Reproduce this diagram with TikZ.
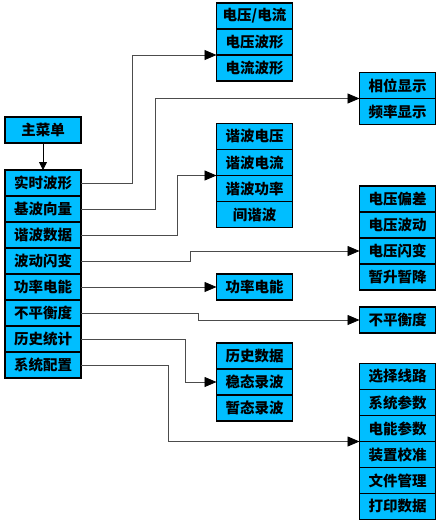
\documentclass[tikz,border=0pt]{standalone}
\usepackage{fontspec}
\newfontfamily\cjk{Noto Sans CJK SC}
\usetikzlibrary{arrows.meta,positioning}
\definecolor{menublue}{RGB}{0,190,255}
\tikzset{
  cell/.style={draw, line width=1.3pt, fill=menublue, minimum width=76pt,
    minimum height=26pt, inner sep=0pt, outer sep=0pt,
    font=\cjk\bfseries\fontsize{14.5}{16}\selectfont},
  link/.style={draw=black!70, line width=0.8pt, -{Triangle[length=12pt,width=10pt,color=black]}}
}

\begin{document}
\begin{tikzpicture}[x=1pt,y=-1pt]
  \useasboundingbox (0,0) rectangle (441,524);
  % main menu
  \node[cell] (mm) at (43,130) {主菜单};
  % left column
  \node[cell] (lc1) at (43,183) {实时波形};
  \node[cell, below=0pt of lc1] (lc2) {基波向量};
  \node[cell, below=0pt of lc2] (lc3) {谐波数据};
  \node[cell, below=0pt of lc3] (lc4) {波动闪变};
  \node[cell, below=0pt of lc4] (lc5) {功率电能};
  \node[cell, below=0pt of lc5] (lc6) {不平衡度};
  \node[cell, below=0pt of lc6] (lc7) {历史统计};
  \node[cell, below=0pt of lc7] (lc8) {系统配置};
  \draw[draw=black, line width=0.8pt, -{Triangle[length=8pt,width=8pt]}] (mm.south) -- (lc1.north);
  % waveforms
  \node[cell] (b1a) at (254.5,16) {电压/电流};
  \node[cell, below=0pt of b1a] (b1b) {电压波形};
  \node[cell, below=0pt of b1b] (b1c) {电流波形};
  % vectors
  \node[cell] (b2a) at (397.5,85.5) {相位显示};
  \node[cell, below=0pt of b2a] (b2b) {频率显示};
  % harmonics
  \node[cell] (b3a) at (254.5,136.5) {谐波电压};
  \node[cell, below=0pt of b3a] (b3b) {谐波电流};
  \node[cell, below=0pt of b3b] (b3c) {谐波功率};
  \node[cell, below=0pt of b3c] (b3d) {间谐波};
  % flicker
  \node[cell] (b4a) at (397.5,199) {电压偏差};
  \node[cell, below=0pt of b4a] (b4b) {电压波动};
  \node[cell, below=0pt of b4b] (b4c) {电压闪变};
  \node[cell, below=0pt of b4c] (b4d) {暂升暂降};
  % power, unbalance
  \node[cell] (b5) at (254.5,287) {功率电能};
  \node[cell] (b6) at (397.5,320) {不平衡度};
  % history
  \node[cell] (b7a) at (254.5,356) {历史数据};
  \node[cell, below=0pt of b7a] (b7b) {稳态录波};
  \node[cell, below=0pt of b7b] (b7c) {暂态录波};
  % settings
  \node[cell] (b8a) at (397.5,376.5) {选择线路};
  \node[cell, below=0pt of b8a] (b8b) {系统参数};
  \node[cell, below=0pt of b8b] (b8c) {电能参数};
  \node[cell, below=0pt of b8c] (b8d) {装置校准};
  \node[cell, below=0pt of b8d] (b8e) {文件管理};
  \node[cell, below=0pt of b8e] (b8f) {打印数据};
  % connectors
  \draw[link] (lc1.east) -- ++(51,0) |- (b1b.south west);
  \draw[link] (lc2.east) -- ++(74,0) |- (b2a.south west);
  \draw[link] (lc3.east) -- ++(96,0) |- (b3b.south west);
  \draw[link] (lc4.east) -- ++(109,0) |- (b4c.west);
  \draw[link] (lc5.east) -- (b5.west);
  \draw[link] (lc6.east) -- ++(117,0) |- (b6.west);
  \draw[link] (lc7.east) -- ++(104,0) |- (b7b.west);
  \draw[link] (lc8.east) -- ++(87,0) |- (b8c.south west);
\end{tikzpicture}
\end{document}
